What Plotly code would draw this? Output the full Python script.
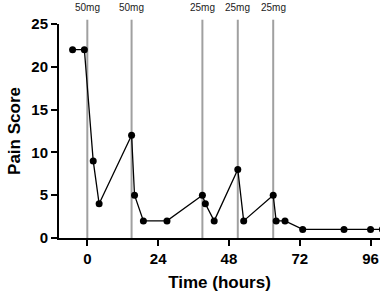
import plotly.graph_objects as go

hours = [-5, -1, 2, 4, 15, 16, 19, 27, 39, 40, 43, 51, 53, 63, 64, 67, 73, 87, 96, 100]
pain = [22, 22, 9, 4, 12, 5, 2, 2, 5, 4, 2, 8, 2, 5, 2, 2, 1, 1, 1, 1]
dose_times = [0, 15, 39, 51, 63]
dose_labels = ["50mg", "50mg", "25mg", "25mg", "25mg"]
x_ticks = [0, 24, 48, 72, 96]
y_ticks = [0, 5, 10, 15, 20, 25]

fig = go.Figure()
fig.add_trace(go.Scatter(
    x=hours, y=pain, mode="lines+markers",
    line=dict(color="black", width=1.3),
    marker=dict(color="black", size=7),
    showlegend=False,
))

for t, lab in zip(dose_times, dose_labels):
    fig.add_shape(type="line", xref="x", yref="paper", x0=t, x1=t, y0=0, y1=1.02,
                  line=dict(color="#a0a0a0", width=2), layer="below")
    fig.add_annotation(x=t, y=1.075, xref="x", yref="paper", text=lab, showarrow=False,
                       font=dict(family="Liberation Sans, Arial", size=10, color="#222"),
                       yanchor="middle")

fig.update_layout(
    width=383, height=296,
    margin=dict(l=59, r=3, t=24, b=58),
    plot_bgcolor="white", paper_bgcolor="white",
    font=dict(family="Liberation Sans, Arial", color="black"),
    hovermode=False,
)
fig.update_xaxes(
    range=[-9.6, 99.2], tickvals=x_ticks, showgrid=False, zeroline=False,
    showline=True, linecolor="black", linewidth=2, automargin=False,
    ticks="outside", ticklen=6, tickwidth=2, tickcolor="black",
    tickfont=dict(size=15, family="Liberation Sans, Arial", weight="bold"),
    title=dict(text="<b>Time (hours)</b>", font=dict(size=17), standoff=10),
)
fig.update_yaxes(
    range=[0, 25], tickvals=y_ticks, showgrid=False, zeroline=False,
    showline=True, linecolor="black", linewidth=2, automargin=False,
    ticks="outside", ticklen=6, tickwidth=2, tickcolor="black",
    tickfont=dict(size=15, family="Liberation Sans, Arial", weight="bold"),
    title=dict(text="<b>Pain Score</b>", font=dict(size=17), standoff=6),
)

fig.write_html("out.html", config={"displayModeBar": False},
               post_script="document.body.style.margin='0';")
